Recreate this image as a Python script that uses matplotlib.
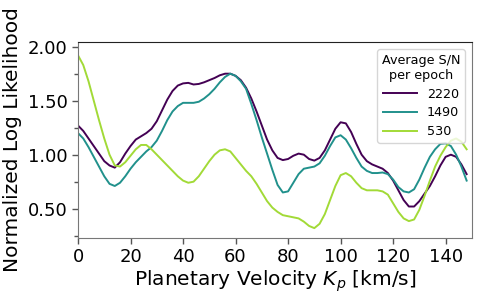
import numpy as np
import matplotlib
matplotlib.use("Agg")
import matplotlib.pyplot as plt
from matplotlib.ticker import MultipleLocator

kp = np.arange(0, 150, 2)

snr_2220 = [1.27, 1.22, 1.15, 1.08, 1.01, 0.94, 0.90, 0.88, 0.93, 1.01,
            1.08, 1.14, 1.17, 1.20, 1.24, 1.31, 1.41, 1.51, 1.59, 1.64,
            1.66, 1.665, 1.65, 1.655, 1.67, 1.69, 1.71, 1.735, 1.75, 1.75,
            1.73, 1.69, 1.62, 1.52, 1.40, 1.27, 1.14, 1.04, 0.97, 0.95,
            0.96, 0.99, 1.01, 1.00, 0.96, 0.945, 0.97, 1.04, 1.14, 1.24,
            1.30, 1.29, 1.21, 1.10, 1.00, 0.94, 0.91, 0.89, 0.87, 0.83,
            0.76, 0.67, 0.58, 0.52, 0.52, 0.57, 0.64, 0.71, 0.80, 0.90,
            0.98, 1.00, 0.98, 0.91, 0.82]

snr_1490 = [1.20, 1.15, 1.07, 0.98, 0.89, 0.80, 0.73, 0.71, 0.74, 0.80,
            0.87, 0.93, 0.98, 1.03, 1.07, 1.13, 1.22, 1.32, 1.40, 1.45,
            1.48, 1.48, 1.48, 1.49, 1.52, 1.56, 1.61, 1.67, 1.72, 1.75,
            1.73, 1.68, 1.61, 1.47, 1.32, 1.16, 1.01, 0.86, 0.72, 0.65,
            0.66, 0.74, 0.82, 0.87, 0.88, 0.89, 0.92, 0.99, 1.08, 1.16,
            1.18, 1.14, 1.06, 0.97, 0.89, 0.85, 0.83, 0.83, 0.835, 0.82,
            0.77, 0.70, 0.66, 0.65, 0.68, 0.77, 0.88, 0.98, 1.05, 1.10,
            1.105, 1.08, 1.00, 0.89, 0.76]

snr_530 = [1.92, 1.83, 1.68, 1.50, 1.32, 1.15, 1.00, 0.90, 0.89, 0.93,
           0.99, 1.05, 1.09, 1.09, 1.05, 1.00, 0.95, 0.90, 0.85, 0.80,
           0.76, 0.74, 0.75, 0.80, 0.87, 0.94, 1.00, 1.04, 1.05, 1.03,
           0.97, 0.91, 0.85, 0.80, 0.73, 0.65, 0.57, 0.51, 0.47, 0.44,
           0.43, 0.42, 0.41, 0.38, 0.34, 0.32, 0.36, 0.45, 0.58, 0.71,
           0.81, 0.83, 0.80, 0.74, 0.69, 0.67, 0.67, 0.67, 0.66, 0.63,
           0.55, 0.47, 0.41, 0.385, 0.40, 0.49, 0.62, 0.76, 0.89, 0.99,
           1.07, 1.13, 1.15, 1.12, 1.05]

labels = ["2220", "1490", "530"]
series = [snr_2220, snr_1490, snr_530]
colors = ["#440154", "#21918c", "#a2da37"]

fig = plt.figure(figsize=(4.83, 2.97), dpi=100)
ax = fig.add_axes([0.1615, 0.2003, 0.8155, 0.6567])

for lab, vals, c in zip(labels, series, colors):
    ax.plot(kp, vals, color=c, lw=1.4, label=lab)

ax.set_xlim(0, 150)
ax.set_ylim(0.233, 2.039)
ax.xaxis.set_major_locator(MultipleLocator(20))
ax.yaxis.set_major_locator(MultipleLocator(0.5))
ax.yaxis.set_minor_locator(MultipleLocator(0.25))
ax.yaxis.set_major_formatter(matplotlib.ticker.FormatStrFormatter("%.2f"))
ax.tick_params(axis="both", which="major", labelsize=13, length=4, width=1, color="#555555")
ax.tick_params(axis="y", which="minor", length=3, width=1, color="#555555")

for s in ["left", "bottom", "right"]:
    ax.spines[s].set_color("#777777")
ax.spines["top"].set_color("#222222")

ax.set_xlabel(r"Planetary Velocity $K_p$ [km/s]", fontsize=14.5, labelpad=2)
ax.set_ylabel("Normalized Log Likelihood", fontsize=14.5, labelpad=4)

leg = ax.legend(title="Average S/N\nper epoch", fontsize=9.2, title_fontsize=9.2,
                loc="upper right", frameon=True, handlelength=2.6,
                borderpad=0.35, labelspacing=0.45, borderaxespad=0.55,
                handletextpad=0.8)
leg.get_title().set_multialignment("center")

fig.savefig("out.png", dpi=100)
